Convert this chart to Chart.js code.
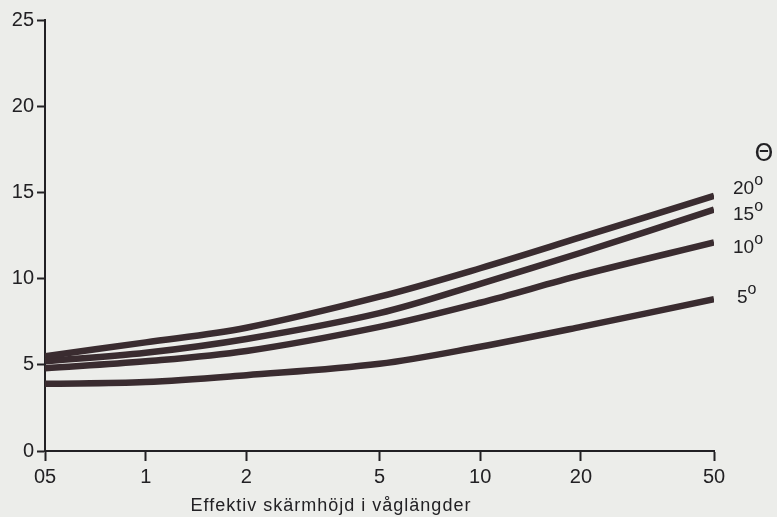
<!DOCTYPE html>
<html>
<head>
<meta charset="utf-8">
<script src="https://cdn.jsdelivr.net/npm/chart.js@4/dist/chart.umd.min.js"></script>
<style>
  html, body { margin: 0; padding: 0; background: #ecedea; }
  #wrap { width: 777px; height: 517px; }
</style>
</head>
<body>
<div id="wrap"><canvas id="chart" width="777" height="517"></canvas></div>
<script>
// effective screen height (wavelengths), log axis
const xValues = [0.5, 1, 2, 5, 10, 20, 50];
const xTickLabels = ['05', '1', '2', '5', '10', '20', '50'];
const yTicks = [0, 5, 10, 15, 20, 25];

// one curve per angle
const angleLabels = ['20', '15', '10', '5'];
const deg20 = [5.5, 6.3, 7.15, 8.95, 10.6, 12.4, 14.8];
const deg15 = [5.2, 5.7, 6.5, 8.0, 9.7, 11.5, 14.0];
const deg10 = [4.8, 5.2, 5.8, 7.2, 8.6, 10.2, 12.1];
const deg5  = [3.9, 4.0, 4.4, 5.06, 6.05, 7.2, 8.8];

const xTitle = 'Effektiv skärmhöjd i våglängder';
const symbol = 'Θ';

const ink = '#222124';
const lineInk = '#3a2c30';
const fontFam = '"Liberation Sans", Arial, sans-serif';

function makeSet(name, vals) {
    return {
        label: name,
        data: xValues.map((x, i) => ({ x: x, y: vals[i] })),
        borderColor: lineInk,
        borderWidth: 6.5,
        borderCapStyle: 'butt',
        pointRadius: 0,
        tension: 0.35,
        fill: false
    };
}

// labels at the right end of each curve, the theta and the axis title
const extras = {
    id: 'extras',
    afterDraw(chart) {
        const ctx = chart.ctx;
        const xs = chart.scales.x;
        const ys = chart.scales.y;
        const offsets = [-7, 5, 5, -2];
        ctx.save();
        ctx.fillStyle = ink;
        ctx.textBaseline = 'middle';
        chart.data.datasets.forEach((ds, i) => {
            const last = ds.data[ds.data.length - 1];
            let px = xs.right + (ds.label === '5' ? 23 : 19);
            const py = ys.getPixelForValue(last.y) + offsets[i];
            ctx.font = '19px ' + fontFam;
            ctx.textAlign = 'left';
            ctx.fillText(ds.label, px, py);
            const w = ctx.measureText(ds.label).width;
            ctx.font = '16px ' + fontFam;
            ctx.fillText('o', px + w, py - 8);
        });
        ctx.font = '24px "DejaVu Sans", sans-serif';
        ctx.textAlign = 'center';
        ctx.fillText(symbol, 764, 155);

        ctx.font = '18px ' + fontFam;
        ctx.letterSpacing = '1px';
        ctx.textBaseline = 'alphabetic';
        ctx.fillText(xTitle, 331, 511);
        ctx.restore();
    }
};

new Chart(document.getElementById('chart'), {
    type: 'line',
    data: {
        datasets: [
            makeSet(angleLabels[0], deg20),
            makeSet(angleLabels[1], deg15),
            makeSet(angleLabels[2], deg10),
            makeSet(angleLabels[3], deg5)
        ]
    },
    options: {
        responsive: false,
        animation: false,
        layout: { padding: { top: 20, right: 63, left: 0, bottom: 0 } },
        plugins: {
            legend: { display: false },
            tooltip: { enabled: false }
        },
        scales: {
            x: {
                type: 'logarithmic',
                min: 0.5,
                max: 50,
                afterBuildTicks: (s) => { s.ticks = xValues.map(v => ({ value: v })); },
                afterFit: (s) => { s.height = 66; },
                border: { display: true, color: ink, width: 2 },
                grid: { drawOnChartArea: false, drawTicks: true, tickLength: 10, tickColor: ink, tickWidth: 2 },
                ticks: {
                    autoSkip: false,
                    maxRotation: 0,
                    padding: 4,
                    color: ink,
                    font: { size: 20, family: fontFam },
                    callback: (v, i) => xTickLabels[i]
                }
            },
            y: {
                min: 0,
                max: 25,
                afterBuildTicks: (s) => { s.ticks = yTicks.map(v => ({ value: v })); },
                afterFit: (s) => { s.width = 45; },
                border: { display: true, color: ink, width: 2 },
                grid: { drawOnChartArea: false, drawTicks: true, tickLength: 8, tickColor: ink, tickWidth: 2 },
                ticks: {
                    padding: 3,
                    color: ink,
                    font: { size: 20, family: fontFam }
                }
            }
        }
    },
    plugins: [extras]
});
</script>
</body>
</html>
